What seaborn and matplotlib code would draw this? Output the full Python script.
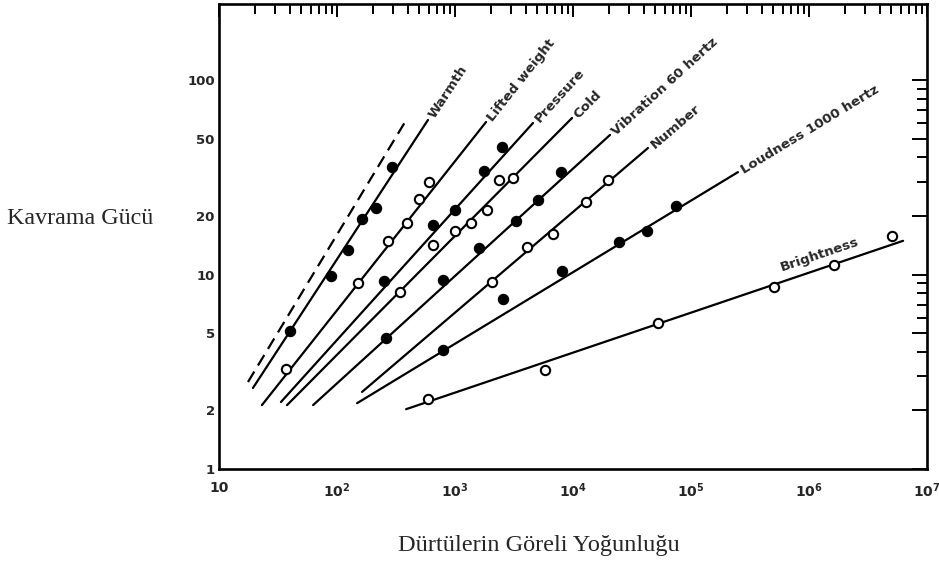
import numpy as np
import pandas as pd
import matplotlib
matplotlib.use("Agg")
import matplotlib.pyplot as plt
import matplotlib.ticker as mticker
import seaborn as sns

# ---------------- data ----------------
series_names = ["dashed", "Warmth", "Lifted weight", "Pressure", "Cold",
                "Vibration 60 hertz", "Number", "Loudness 1000 hertz", "Brightness"]
# fitted line end points (x0, y0) -> (x1, y1)
line_x0 = [17.6, 19.4, 23.1, 33.5, 37.7, 62.7, 163, 148, 385]
line_y0 = [2.80, 2.61, 2.13, 2.21, 2.13, 2.13, 2.49, 2.18, 2.03]
line_x1 = [377, 590, 1832, 4580, 9820, 20600, 43200, 250000, 6.27e6]
line_y1 = [60.8, 62.3, 60.8, 60.1, 63.8, 52.2, 44.7, 33.6, 14.9]

# measured points
warmth_x = [40.0, 88.9, 124, 162, 214, 291]
warmth_y = [5.12, 9.82, 13.4, 19.3, 22.0, 35.8]
lifted_x = [37.0, 151, 270, 392, 495, 602]
lifted_y = [3.27, 9.04, 14.9, 18.4, 24.4, 29.9]
pressure_x = [250, 652, 1000, 1762, 2500]
pressure_y = [9.26, 18.0, 21.5, 34.0, 45.3]
cold_x = [342, 652, 1000, 1367, 1866, 2360, 3104]
cold_y = [8.13, 14.2, 16.7, 18.4, 21.5, 30.6, 31.4]
vibration_x = [260, 791, 1596, 3290, 5050, 7910]
vibration_y = [4.72, 9.37, 13.7, 18.8, 24.2, 33.7]
number_x = [2062, 4070, 6770, 12900, 19800]
number_y = [9.15, 13.8, 16.2, 23.6, 30.6]
loudness_x = [791, 2550, 8070, 24500, 42400, 74600]
loudness_y = [4.09, 7.48, 10.4, 14.7, 16.7, 22.5]
brightness_x = [590, 5790, 52500, 505000, 1.63e6, 5.05e6]
brightness_y = [2.29, 3.23, 5.63, 8.62, 11.2, 15.8]

y_major = [1, 2, 5, 10, 20, 50, 100]
y_minor = [3, 4, 6, 7, 8, 9, 30, 40, 60, 70, 80, 90]
x_major = [10, 1e2, 1e3, 1e4, 1e5, 1e6, 1e7]
x_labels = ["10", r"$\mathbf{10^{2}}$", r"$\mathbf{10^{3}}$", r"$\mathbf{10^{4}}$",
            r"$\mathbf{10^{5}}$", r"$\mathbf{10^{6}}$", r"$\mathbf{10^{7}}$"]

# ---------------- build frames ----------------
lines_df = pd.DataFrame({
    "series": np.repeat(series_names, 2),
    "x": np.ravel(np.column_stack([line_x0, line_x1])),
    "y": np.ravel(np.column_stack([line_y0, line_y1])),
})
pts = []
for name, xs, ys, filled in [
    ("Warmth", warmth_x, warmth_y, True),
    ("Lifted weight", lifted_x, lifted_y, False),
    ("Pressure", pressure_x, pressure_y, True),
    ("Cold", cold_x, cold_y, False),
    ("Vibration 60 hertz", vibration_x, vibration_y, True),
    ("Number", number_x, number_y, False),
    ("Loudness 1000 hertz", loudness_x, loudness_y, True),
    ("Brightness", brightness_x, brightness_y, False),
]:
    for xv, yv in zip(xs, ys):
        pts.append((name, xv, yv, "filled" if filled else "open"))
pts_df = pd.DataFrame(pts, columns=["series", "x", "y", "kind"])

# ---------------- figure ----------------
sns.set_style("white")
plt.rcParams["font.family"] = ["DejaVu Sans"]
plt.rcParams["mathtext.fontset"] = "dejavusans"

fig = plt.figure(figsize=(9.39, 5.63), dpi=100)
ax = fig.add_axes([219 / 939, 1 - 469 / 563, (927 - 219) / 939, (469 - 4) / 563])
ax.set_xscale("log")
ax.set_yscale("log")
ax.set_xlim(10, 1e7)
ax.set_ylim(1, 10 ** ((469 - 4) / 194.5))

for name in series_names:
    sub = lines_df[lines_df.series == name]
    sns.lineplot(data=sub, x="x", y="y", ax=ax, color="black", lw=1.6,
                 linestyle=(0, (5.5, 3.2)) if name == "dashed" else "-",
                 sort=False, estimator=None, legend=False)

filled = pts_df[pts_df.kind == "filled"]
opened = pts_df[pts_df.kind == "open"]
sns.scatterplot(data=filled, x="x", y="y", ax=ax, s=55, color="black",
                edgecolor="black", linewidth=0.8, zorder=5, legend=False)
sns.scatterplot(data=opened, x="x", y="y", ax=ax, s=45, facecolor="white",
                edgecolor="black", linewidth=1.5, zorder=5, legend=False)

# ---------------- axes styling ----------------
for sp in ax.spines.values():
    sp.set_visible(True)
    sp.set_color("black")
    sp.set_linewidth(1.9)

ax.xaxis.set_major_locator(mticker.FixedLocator(x_major))
ax.xaxis.set_major_formatter(mticker.FixedFormatter(x_labels))
ax.xaxis.set_minor_locator(mticker.LogLocator(base=10, subs=np.arange(2, 10), numticks=20))
ax.xaxis.set_minor_formatter(mticker.NullFormatter())
ax.yaxis.set_major_locator(mticker.FixedLocator(y_major))
ax.yaxis.set_major_formatter(mticker.FixedFormatter([str(v) for v in y_major]))
ax.yaxis.set_minor_locator(mticker.FixedLocator(y_minor))
ax.yaxis.set_minor_formatter(mticker.NullFormatter())

ax.tick_params(axis="both", which="both", direction="in", top=True, right=True,
               color="black", width=1.4)
ax.tick_params(axis="x", which="major", length=9.5, pad=9, labelsize=10)
ax.tick_params(axis="x", which="minor", length=7)
ax.tick_params(axis="y", which="major", length=11, pad=3, labelsize=9.5)
ax.tick_params(axis="y", which="minor", length=7)
for lab in ax.get_xticklabels() + ax.get_yticklabels():
    lab.set_fontweight("bold")
ax.set_xlabel("")
ax.set_ylabel("")

# ---------------- line labels ----------------
def angle_of(x0, y0, x1, y1):
    p0 = ax.transData.transform((x0, y0))
    p1 = ax.transData.transform((x1, y1))
    return np.degrees(np.arctan2(p1[1] - p0[1], p1[0] - p0[0]))

for i, name in enumerate(series_names):
    if name in ("dashed", "Brightness"):
        continue
    ang = angle_of(line_x0[i], line_y0[i], line_x1[i], line_y1[i])
    r = np.radians(ang)
    ax.annotate(name, xy=(line_x1[i], line_y1[i]), xycoords="data",
                xytext=(3 * np.cos(r), 3 * np.sin(r)), textcoords="offset points",
                rotation=ang, rotation_mode="anchor", ha="left", va="center_baseline",
                fontsize=9.7, fontweight="bold")

# Brightness label sits above its line
bi = series_names.index("Brightness")
ang = angle_of(line_x0[bi], line_y0[bi], line_x1[bi], line_y1[bi])
r = np.radians(ang)
bx = 6.3e5
by = 10 ** (np.log10(line_y0[bi]) + (np.log10(bx) - np.log10(line_x0[bi])) *
            (np.log10(line_y1[bi]) - np.log10(line_y0[bi])) /
            (np.log10(line_x1[bi]) - np.log10(line_x0[bi])))
ax.annotate("Brightness", xy=(bx, by), xycoords="data",
            xytext=(-5 * np.sin(r), 5 * np.cos(r)), textcoords="offset points",
            rotation=ang, rotation_mode="anchor", ha="left", va="bottom",
            fontsize=9.7, fontweight="bold")

# ---------------- axis titles ----------------
fig.text(80 / 939, 1 - 218 / 563, "Kavrama Gücü", ha="center", va="center",
         family=["Liberation Serif"], fontsize=17.3)
fig.text(539 / 939, 1 - 545 / 563, "Dürtülerin Göreli Yoğunluğu", ha="center",
         va="center", family=["Liberation Serif"], fontsize=17.5)

fig.savefig("out.png", dpi=100, facecolor="white")
